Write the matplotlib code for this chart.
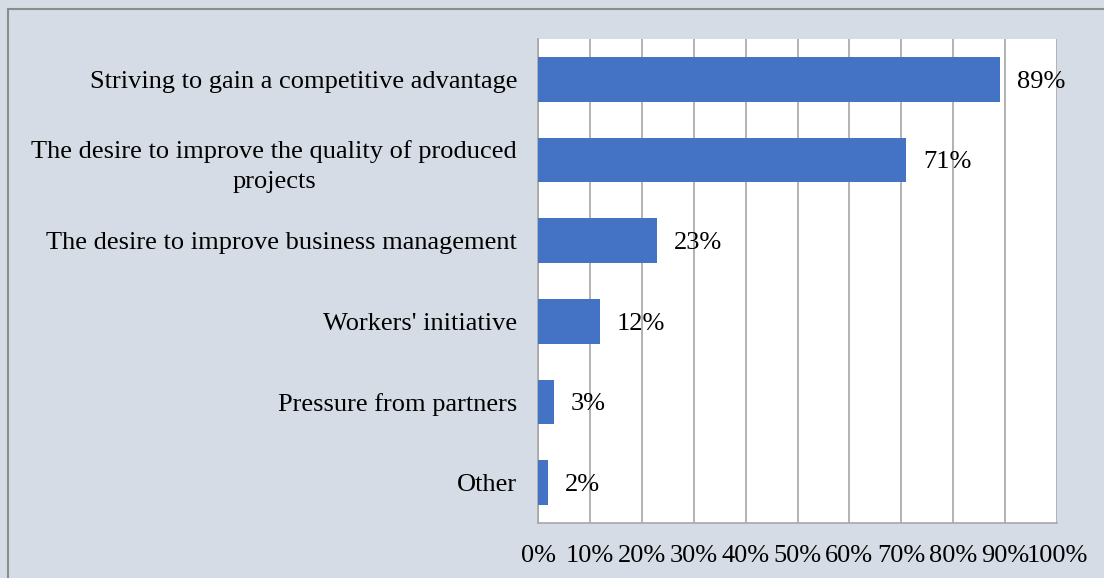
import matplotlib.pyplot as plt
from matplotlib.patches import Rectangle

categories = ['Striving to gain a competitive advantage',
              'The desire to improve the quality of produced\nprojects',
              'The desire to improve business management',
              "Workers' initiative",
              'Pressure from partners',
              'Other']
values = [89, 71, 23, 12, 3, 2]
ticks = list(range(0, 101, 10))
tick_labels = [str(t) + '%' for t in ticks]

plt.rcParams['font.family'] = ['Liberation Serif', 'DejaVu Serif']

bg = '#D6DCE5'
fig = plt.figure(figsize=(11.04, 5.78), dpi=100, facecolor=bg)
ax = fig.add_axes([538/1104, 1 - 523/578, (1057-538)/1104, (523-39)/578])

# outer chart border
fig.patches.append(Rectangle((8/1104, -0.05), 1.1, 1 - 9/578 + 0.05, transform=fig.transFigure,
                             fill=False, edgecolor='#8c8c8c', linewidth=1.5))

y = list(range(len(categories)))
ax.barh(y, values, height=0.55, color='#4472C4', zorder=3)
ax.set_ylim(len(categories) - 0.5, -0.5)
ax.set_xlim(0, 100)

ax.set_xticks(ticks)
ax.set_xticklabels(tick_labels, fontsize=19)
ax.set_yticks(y)
ax.set_yticklabels(categories, fontsize=19, multialignment='center', linespacing=1.45)
ax.tick_params(axis='both', length=0)
ax.tick_params(axis='y', pad=15)
ax.tick_params(axis='x', pad=16)

ax.grid(axis='x', color='#a6a6a6', linewidth=1.2, zorder=0)
for s in ['top', 'right']:
    ax.spines[s].set_visible(False)
ax.spines['left'].set_color('#a6a6a6')
ax.spines['bottom'].set_color('#a6a6a6')
ax.spines['left'].set_linewidth(1.2)
ax.spines['bottom'].set_linewidth(1.2)

for yi, v in zip(y, values):
    ax.annotate(str(v) + '%', (v, yi), xytext=(12, 0), textcoords='offset points',
                va='center_baseline', ha='left', fontsize=19, zorder=4)

fig.savefig('out.png', facecolor=bg)
